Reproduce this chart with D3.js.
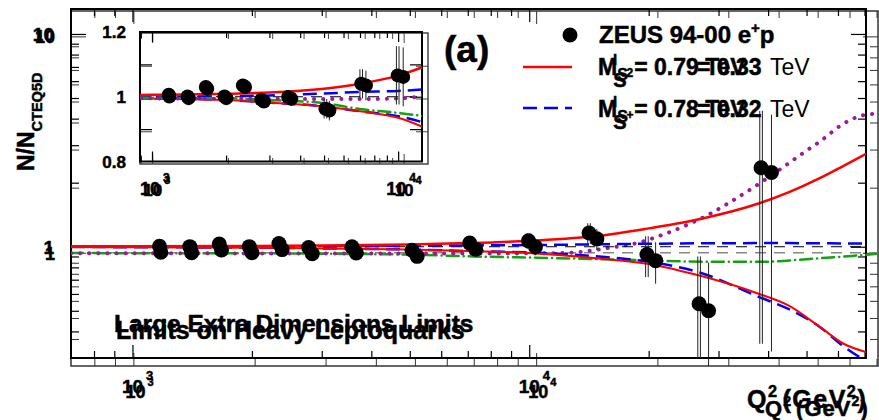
<!DOCTYPE html>
<html>
<head>
<meta charset="utf-8">
<script src="https://cdn.jsdelivr.net/npm/d3@7"></script>
<style>
  body { margin: 0; background: #fff; }
  text { font-family: "Liberation Sans", Arial, Helvetica, sans-serif; fill: #000; }
  text[font-weight="bold"] { stroke: #000; stroke-width: 0.5px; }
</style>
</head>
<body>
<svg id="chart" width="879" height="420"></svg>
<script>
// ---- data ----
const pointQ2    = [1170, 1395, 1655, 1970, 2340, 2780, 3575, 5065, 7080, 9960, 14150, 19800, 26800, 38400];
const pointRatio = [1.006, 1.001, 1.03, 1.001, 1.035, 0.991, 0.999, 0.963, 1.04, 1.066, 1.16, 0.92, 0.54, 2.35];
const pointErr   = [0.012, 0.012, 0.014, 0.014, 0.016, 0.018, 0.022, 0.03, 0.045, 0.09, 0.13, 0.2, 0.36, 2.0];

// extra-dimension curves (frame a)
const ledQ2     = [700, 1000, 2000, 3000, 5000, 7000, 10000, 15000, 20000, 27000, 38000, 45000, 54000, 62000, 70600];
const redUpper  = [1.005, 1.006, 1.009, 1.013, 1.025, 1.04, 1.066, 1.125, 1.22, 1.35, 1.6, 1.8, 2.1, 2.4, 2.73];
const redLower  = [0.996, 0.994, 0.99, 0.982, 0.97, 0.955, 0.935, 0.88, 0.83, 0.73, 0.6, 0.53, 0.42, 0.35, 0.32];
const blueUpper = [1.0, 1.0, 1.002, 1.004, 1.01, 1.015, 1.018, 1.027, 1.033, 1.038, 1.04, 1.04, 1.038, 1.036, 1.035];
const blueLower = [0.997, 0.995, 0.99, 0.982, 0.97, 0.955, 0.94, 0.9, 0.85, 0.755, 0.58, 0.51, 0.42, 0.34, 0.29];

// leptoquark curves (second frame)
const greenQ2   = [700, 2000, 3000, 5000, 7000, 10000, 16000, 27000, 37000, 47000, 61000, 70600];
const greenLQ   = [0.997, 0.995, 0.99, 0.98, 0.962, 0.95, 0.93, 0.91, 0.91, 0.935, 0.968, 0.99];
const magentaQ2 = [700, 1000, 2000, 3000, 5000, 7000, 10000, 12000, 13500, 15200, 17800, 20800, 24000, 26400, 30100, 36100, 40600, 45000, 51000, 58100, 64400, 70600];
const magentaLQ = [0.995, 0.995, 0.994, 0.994, 0.993, 0.993, 0.995, 1.0, 1.02, 1.055, 1.11, 1.22, 1.36, 1.48, 1.7, 2.11, 2.45, 2.81, 3.3, 3.96, 4.31, 4.4];

// axes
const q2Domain     = [700, 70600];
const ratioDomain  = [0.3, 13.1];
const q2Major      = [1000, 10000];
const q2Minor      = [800, 900, 2000, 3000, 4000, 5000, 6000, 7000, 8000, 9000, 20000, 30000, 40000, 50000, 60000, 70000];
const ratioMajor   = [1, 10];
const ratioMinor   = [0.4, 0.5, 0.6, 0.7, 0.8, 0.9, 2, 3, 4, 5, 6, 7, 8, 9];
const insetQ2      = [894, 12500];
const insetRatio   = [0.8, 1.2];
const insetMinorQ2 = [900, 2000, 3000, 4000, 5000, 6000, 7000, 8000, 9000];
const insetYTicks  = [0.9, 1.0, 1.1];
const insetYLabels = [0.8, 1, 1.2];

const svg = d3.select("#chart");
const defs = svg.append("defs");

const frameA = { x0: 71, x1: 866, y0: 9,  y1: 358 };
const frameB = { x0: 71, x1: 878, y0: 11, y1: 366 };
const insetA = { x0: 140, x1: 422, y0: 32, y1: 161.5 };
const insetB = { x0: 140, x1: 428, y0: 33, y1: 164 };

const mainScales = f => ({
  x: d3.scaleLog().domain(q2Domain).range([f.x0, f.x1]),
  y: d3.scaleLog().domain(ratioDomain).range([f.y1, f.y0])
});
const insetScales = f => ({
  x: d3.scaleLog().domain(insetQ2).range([f.x0, f.x1]),
  y: d3.scaleLinear().domain(insetRatio).range([f.y1, f.y0])
});
const sA = mainScales(frameA), sB = mainScales(frameB);
const iA = insetScales(insetA), iB = insetScales(insetB);

function clip(id, f) {
  defs.append("clipPath").attr("id", id).append("rect")
    .attr("x", f.x0).attr("y", f.y0).attr("width", f.x1 - f.x0).attr("height", f.y1 - f.y0);
}
clip("clipA", frameA); clip("clipB", frameB); clip("clipI", insetA);

function frameTicks(g, s, f, o) {
  const add = (axis, tf) => g.append("g").attr("transform", tf).call(axis)
    .call(a => a.select(".domain").remove())
    .selectAll("line").attr("stroke", o.color).attr("stroke-width", o.tw);
  const xs = [[o.xMinor, o.minor], [o.xMajor, o.major]];
  const ys = [[o.yMinor, o.minor + 1], [o.yMajor, o.major + 2]];
  xs.forEach(([v, len]) => {
    add(d3.axisBottom(s.x).tickValues(v).tickSize(-len).tickFormat(""), `translate(0,${f.y1})`);
    add(d3.axisTop(s.x).tickValues(v).tickSize(-len).tickFormat(""), `translate(0,${f.y0})`);
  });
  ys.forEach(([v, len]) => {
    add(d3.axisLeft(s.y).tickValues(v).tickSize(-len).tickFormat(""), `translate(${f.x0},0)`);
    add(d3.axisRight(s.y).tickValues(v).tickSize(-len).tickFormat(""), `translate(${f.x1},0)`);
  });
  g.append("rect").attr("x", f.x0).attr("y", f.y0).attr("width", f.x1 - f.x0).attr("height", f.y1 - f.y0)
    .attr("fill", "none").attr("stroke", o.color).attr("stroke-width", o.fw);
}

const curve = (s, xs, ys) => d3.line().x(d => s.x(d[0])).y(d => s.y(d[1])).curve(d3.curveMonotoneX)(d3.zip(xs, ys));

function drawCurves(g, s, f, which) {
  if (which.ref) {
    g.append("line").attr("x1", f.x0).attr("x2", f.x1).attr("y1", s.y(1)).attr("y2", s.y(1))
      .attr("stroke", which.ref).attr("stroke-width", which.refW).attr("stroke-dasharray", "11 8");
  }
  if (which.led) {
    g.append("path").attr("d", curve(s, ledQ2, blueUpper)).attr("fill", "none").attr("stroke", "#0000ff").attr("stroke-width", 2.5).attr("stroke-dasharray", "14 7");
    g.append("path").attr("d", curve(s, ledQ2, blueLower)).attr("fill", "none").attr("stroke", "#0000ff").attr("stroke-width", 2.5).attr("stroke-dasharray", "14 7");
    g.append("path").attr("d", curve(s, ledQ2, redUpper)).attr("fill", "none").attr("stroke", "#ff0000").attr("stroke-width", 2.5);
    g.append("path").attr("d", curve(s, ledQ2, redLower)).attr("fill", "none").attr("stroke", "#ff0000").attr("stroke-width", 2);
  }
  if (which.lq) {
    g.append("path").attr("d", curve(s, greenQ2, greenLQ)).attr("fill", "none").attr("stroke", "#13a013").attr("stroke-width", 2.5).attr("stroke-dasharray", "12 5 0.1 5").attr("stroke-linecap", "round");
    g.append("path").attr("d", curve(s, magentaQ2, magentaLQ)).attr("fill", "none").attr("stroke", "#9a1a9a").attr("stroke-width", 4).attr("stroke-dasharray", "0.1 9").attr("stroke-linecap", "round");
  }
}

function drawPoints(g, s, f, r, doubleBar) {
  const pts = d3.zip(pointQ2, pointRatio, pointErr).filter(d => d[0] >= s.x.domain()[0] && d[0] <= s.x.domain()[1]);
  const lo = s.y.domain()[0];
  const offs = doubleBar ? [-1.3, 1.3] : [0];
  offs.forEach(o => {
    g.selectAll(null).data(pts).join("line")
      .attr("x1", d => s.x(d[0]) + o).attr("x2", d => s.x(d[0]) + o)
      .attr("y1", d => s.y(Math.max(d[1] - d[2], lo))).attr("y2", d => s.y(d[1] + d[2]))
      .attr("stroke", "#222").attr("stroke-width", 1);
  });
  g.selectAll(null).data(pts).join("circle")
    .attr("cx", d => s.x(d[0])).attr("cy", d => s.y(d[1])).attr("r", r).attr("fill", "#000");
}

// ---- main frames ----
const tickOpts = { xMajor: q2Major, xMinor: q2Minor, yMajor: ratioMajor, yMinor: ratioMinor, minor: 7, major: 13 };
frameTicks(svg.append("g"), sB, frameB, { ...tickOpts, color: "#333", tw: 1, fw: 1.5 });
frameTicks(svg.append("g"), sA, frameA, { ...tickOpts, color: "#000", tw: 1.2, fw: 2 });

drawCurves(svg.append("g").attr("clip-path", "url(#clipB)"), sB, frameB, { ref: "#888", refW: 1.5, lq: true });
drawCurves(svg.append("g").attr("clip-path", "url(#clipA)"), sA, frameA, { ref: "#000", refW: 1, led: true });

drawPoints(svg.append("g").attr("clip-path", "url(#clipB)"), sB, frameB, 7.5, false);
drawPoints(svg.append("g").attr("clip-path", "url(#clipA)"), sA, frameA, 7.5, true);

// ---- main axis labels ----
const bold = sel => sel.attr("font-weight", "bold");
function pow10(x, y, exp, size, supSize, supDx, supDy) {
  const t = svg.append("text").attr("x", x).attr("y", y).attr("font-size", size).attr("font-weight", "bold").text("10");
  t.append("tspan").attr("dx", supDx).attr("dy", supDy).attr("font-size", supSize).text(exp);
}
q2Major.forEach((v, i) => {
  pow10(sA.x(v) - 10.5, 393, String(3 + i), 19, 13, 3, -13);
  pow10(sB.x(v) - 8, 398, String(3 + i), 18, 11, 2, -12);
});
ratioMajor.forEach(v => {
  bold(svg.append("text").attr("x", 54).attr("y", sA.y(v) + 7).attr("text-anchor", "end").attr("font-size", 19).text(v));
  bold(svg.append("text").attr("x", 55).attr("y", sB.y(v) + 7).attr("text-anchor", "end").attr("font-size", 18).text(v));
});

const yTitle = svg.append("text").attr("transform", "translate(34,171) rotate(-90)").attr("font-size", 23).attr("font-weight", "bold").text("N/N");
yTitle.append("tspan").attr("dy", 8).attr("font-size", 14.5).text("CTEQ5D");

function q2Title(x, y, size, ls) {
  const t = svg.append("text").attr("x", x).attr("y", y).attr("font-size", size).attr("font-weight", "bold").attr("letter-spacing", ls).text("Q");
  t.append("tspan").attr("dy", -size * 0.45).attr("font-size", size * 0.65).text("2");
  t.append("tspan").attr("dx", 4).attr("dy", size * 0.45).text("(GeV");
  t.append("tspan").attr("dy", -size * 0.45).attr("font-size", size * 0.65).text("2");
  t.append("tspan").attr("dy", size * 0.45).text(")");
}
q2Title(747, 408, 25, 1.5);
q2Title(765, 416, 22, 1);

// ---- inset ----
svg.append("rect").attr("x", insetA.x0).attr("y", insetA.y0).attr("width", insetB.x1 - insetA.x0).attr("height", insetB.y1 - insetA.y0).attr("fill", "#fff");
const insetTickOpts = { xMajor: q2Major, xMinor: insetMinorQ2, yMajor: insetYTicks, yMinor: [], minor: 6, major: 10 };
frameTicks(svg.append("g"), iB, insetB, { ...insetTickOpts, color: "#444", tw: 1, fw: 1.5 });
frameTicks(svg.append("g"), iA, insetA, { ...insetTickOpts, color: "#000", tw: 1.2, fw: 2 });
drawCurves(svg.append("g").attr("clip-path", "url(#clipI)"), iA, insetA, { ref: "#000", refW: 1, led: true, lq: true });
drawPoints(svg.append("g").attr("clip-path", "url(#clipI)"), iB, insetB, 7, false);
drawPoints(svg.append("g").attr("clip-path", "url(#clipI)"), iA, insetA, 7, true);

insetYLabels.forEach(v => {
  bold(svg.append("text").attr("x", 126).attr("y", iA.y(v) + 6).attr("text-anchor", "end").attr("font-size", 17).text(v === 1 ? "1" : d3.format(".1f")(v)));
});
q2Major.forEach((v, i) => {
  svg.append("text").attr("x", iA.x(v) - 12).attr("y", 195).attr("font-size", 18).attr("font-weight", "bold").text("10")
    .append("tspan").attr("dx", 3).attr("dy", -13).attr("font-size", 12).text(String(3 + i));
  svg.append("text").attr("x", iB.x(v) - 9).attr("y", 196).attr("font-size", 17).attr("font-weight", "bold").text("10")
    .append("tspan").attr("dx", 2).attr("dy", -12).attr("font-size", 11).text(String(3 + i));
});

// ---- legend and labels ----
bold(svg.append("text").attr("x", 444).attr("y", 62).attr("font-size", 37).text("(a)"));

svg.append("circle").attr("cx", 570).attr("cy", 35).attr("r", 7.5).attr("fill", "#000");
svg.append("line").attr("x1", 523).attr("x2", 572).attr("y1", 67).attr("y2", 67).attr("stroke", "#ff0000").attr("stroke-width", 2.5);
svg.append("line").attr("x1", 523).attr("x2", 572).attr("y1", 108).attr("y2", 108).attr("stroke", "#0000ff").attr("stroke-width", 2.5).attr("stroke-dasharray", "14 7");

const zeus = bold(svg.append("text").attr("x", 599).attr("y", 43).attr("font-size", 24)).text("ZEUS 94-00 e");
zeus.append("tspan").attr("dy", -10).attr("font-size", 15).text("+");
zeus.append("tspan").attr("dy", 10).text("p");

function ledEntry(y, val) {
  const t = bold(svg.append("text").attr("x", 598).attr("y", y).attr("font-size", 23)).text("M");
  t.append("tspan").attr("dy", 5).attr("font-size", 16).text("S");
  t.append("tspan").attr("dy", -5).text(" = " + val + " TeV");
}
function lqEntry(y, sup, val) {
  const t = bold(svg.append("text").attr("x", 613).attr("y", y - 10).attr("font-size", 15)).text("l");
  t.append("tspan").attr("dx", -4).attr("dy", 22).attr("font-size", 20).text("S");
  t.append("tspan").attr("dy", -10).attr("font-size", 12).text(sup);
  bold(svg.append("text").attr("x", 697).attr("y", y).attr("font-size", 23)).text("= " + val);
  svg.append("text").attr("x", 770).attr("y", y).attr("font-size", 23).text("TeV");
}
ledEntry(75, "0.79");
lqEntry(75, "2", "0.33");
ledEntry(117, "0.78");
lqEntry(117, "+", "0.32");

bold(svg.append("text").attr("x", 114).attr("y", 332).attr("font-size", 24.5)).text("Large Extra Dimensions Limits");
bold(svg.append("text").attr("x", 116).attr("y", 339).attr("font-size", 25)).text("Limits on Heavy Leptoquarks");
</script>
</body>
</html>
